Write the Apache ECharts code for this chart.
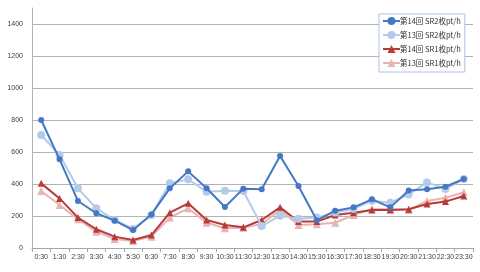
<!DOCTYPE html>
<html><head><meta charset="utf-8">
<script src="https://cdn.jsdelivr.net/npm/echarts@6/dist/echarts.min.js"></script>
<style>html,body{margin:0;padding:0;background:#fff}#c{width:480px;height:272px}</style>
</head><body><div id="c"></div>
<script>
const categories = ['0:30','1:30','2:30','3:30','4:30','5:30','6:30','7:30','8:30','9:30','10:30','11:30','12:30','13:30','14:30','15:30','16:30','17:30','18:30','19:30','20:30','21:30','22:30','23:30'];
const sr2_14 = [800,554,294,217,171,112,210,373,479,373,256,371,367,575,387,173,233,254,304,254,360,367,383,431];
const sr2_13 = [706,581,373,248,175,119,206,404,429,352,358,356,137,202,183,190,222,244,296,283,335,410,369,431];
const sr1_14 = [404,310,190,117,71,50,81,221,279,175,144,129,175,254,165,165,206,221,237,237,242,275,290,325];
const sr1_13 = [356,269,179,102,56,44,71,190,248,158,123,127,150,237,144,148,158,206,244,242,237,294,314,348];
const seriesNames = ['第14回 SR2枚pt/h','第13回 SR2枚pt/h','第14回 SR1枚pt/h','第13回 SR1枚pt/h'];
const yTicks = {min:0, max:1500, interval:200};

const chart = echarts.init(document.getElementById('c'));
const narrow = "'Liberation Sans Narrow','Liberation Sans','DejaVu Sans',sans-serif";
const font = "'Liberation Sans','DejaVu Sans',sans-serif";
function mk(name, data, color, symbol, size, z){
  return {name, type:'line', data, symbol, symbolSize:size, z,
    lineStyle:{color, width:2}, itemStyle:{color}, showSymbol:true, animation:false};
}
chart.setOption({
  animation:false,
  grid:{left:32, right:7, top:8, bottom:24},
  legend:{
    orient:'vertical', left:379, top:14,
    backgroundColor:'#fff', borderColor:'#a9c4e6', borderWidth:1, borderRadius:0,
    padding:[2,4,4,3], itemGap:4, itemWidth:17, itemHeight:10,
    textStyle:{fontSize:7.5, lineHeight:10, color:'#333', fontFamily:"'Noto Sans CJK JP','Liberation Sans',sans-serif", padding:[0,0,0,-5]},
    data:seriesNames
  },
  xAxis:{type:'category', data:categories, boundaryGap:true,
    axisLine:{lineStyle:{color:'#a6a6a6'}},
    axisTick:{show:true, length:4, lineStyle:{color:'#a6a6a6'}},
    axisLabel:{fontSize:7, color:'#404040', fontFamily:narrow, margin:6, interval:0}
  },
  yAxis:{type:'value', min:yTicks.min, max:yTicks.max, interval:yTicks.interval,
    axisLine:{show:true, lineStyle:{color:'#b3b3b3'}},
    axisTick:{show:false},
    axisLabel:{fontSize:7, color:'#404040', fontFamily:font, margin:9, showMaxLabel:false, formatter:v=>String(v)},
    splitLine:{show:true, showMaxLine:false, lineStyle:{color:'#b3b3b3', width:1}}
  },
  series:[
    mk(seriesNames[0], sr2_14, '#4677c4', 'circle', 6, 4),
    mk(seriesNames[1], sr2_13, '#b3cbe9', 'circle', 8, 3),
    mk(seriesNames[2], sr1_14, '#b83b3a', 'triangle', 7, 2),
    mk(seriesNames[3], sr1_13, '#e8b4b3', 'triangle', 8, 1)
  ]
});
</script></body></html>
